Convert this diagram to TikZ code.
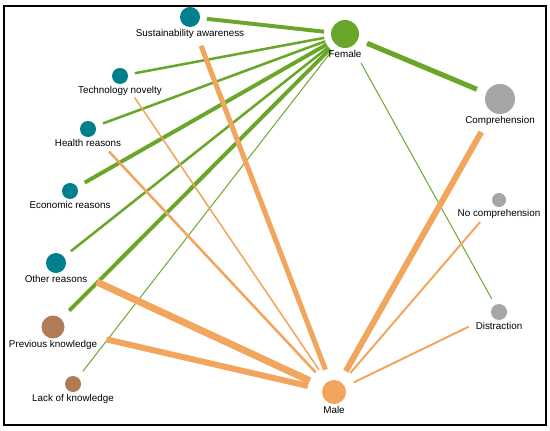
\documentclass[tikz,border=0pt]{standalone}
\usepackage{fontspec}
\setmainfont{Liberation Sans}
\usepackage{xcolor}
\usepackage{tikz}
\usetikzlibrary{positioning, backgrounds}
\definecolor{greenc}{RGB}{106,166,41}
\definecolor{orangec}{RGB}{242,165,92}
\definecolor{tealc}{RGB}{0,128,140}
\definecolor{brownc}{RGB}{176,124,88}
\definecolor{grayc}{RGB}{166,166,166}

\begin{document}
\begin{tikzpicture}[
    x=0.025cm, y=-0.025cm,
    dot/.style={circle, inner sep=0pt},
    lbl/.style={inner xsep=4pt, inner ysep=1pt, font=\fontsize{7}{8}\selectfont},
    gedge/.style={draw=greenc, shorten <=15pt},
    oedge/.style={draw=orangec, shorten <=19pt},
]
\useasboundingbox (0,0) rectangle (550,431);
\draw[line width=1.4pt] (4,6) rectangle (546,425);

% Left side — reasons and knowledge
\node[dot, fill=tealc, minimum size=0.5cm]    (sust)   at (190,17)  {};
\node[dot, fill=tealc, minimum size=0.4cm]    (tech)   at (120,76)  {};
\node[dot, fill=tealc, minimum size=0.4cm]    (health) at (88,129)  {};
\node[dot, fill=tealc, minimum size=0.4cm]    (econ)   at (70,191)  {};
\node[dot, fill=tealc, minimum size=0.5cm]    (other)  at (56,263)  {};
\node[dot, fill=brownc, minimum size=0.575cm] (prev)   at (53,327)  {};
\node[dot, fill=brownc, minimum size=0.4cm]   (lack)   at (73,384)  {};

\node[lbl, below=0pt of sust]   (lsust)   {Sustainability awareness};
\node[lbl, below=0pt of tech]   (ltech)   {Technology novelty};
\node[lbl, below=0pt of health] (lhealth) {Health reasons};
\node[lbl, below=0pt of econ]   (lecon)   {Economic reasons};
\node[lbl, below=0pt of other]  (lother)  {Other reasons};
\node[lbl, below=0pt of prev]   (lprev)   {Previous knowledge};
\node[lbl, below=0pt of lack]   (llack)   {Lack of knowledge};

% Middle — gender
\node[dot, fill=greenc, minimum size=0.7cm]  (female) at (345,34)  {};
\node[dot, fill=orangec, minimum size=0.6cm] (male)   at (334,392) {};
\node[lbl, below=0pt of female] (lfemale) {Female};
\node[lbl, below=0pt of male]   (lmale)   {Male};

% Right side — comprehension
\node[dot, fill=grayc, minimum size=0.75cm] (comp)   at (500,99)  {};
\node[dot, fill=grayc, minimum size=0.35cm] (nocomp) at (499,200) {};
\node[dot, fill=grayc, minimum size=0.4cm]  (distr)  at (499,312) {};
\node[lbl, below=0pt of comp]   (lcomp)   {Comprehension};
\node[lbl, below=0pt of nocomp] (lnocomp) {No comprehension};
\node[lbl, below=0pt of distr]  (ldistr)  {Distraction};

\begin{scope}[on background layer]
% Female links
\draw[gedge, line width=2.8pt, shorten >=12pt]   (female.center) -- (sust.center);
\draw[gedge, line width=1.8pt, shorten >=10.7pt] (female.center) -- (tech.center);
\draw[gedge, line width=1.8pt, shorten >=11.4pt] (female.center) -- (health.center);
\draw[gedge, line width=2.8pt, shorten >=12pt]   (female.center) -- (econ.center);
\draw[gedge, line width=1.8pt, shorten >=13.5pt] (female.center) -- (other.center);
\draw[gedge, line width=2.8pt, shorten >=16.4pt] (female.center) -- (prev.center);
\draw[gedge, line width=0.7pt, shorten >=11.4pt] (female.center) -- (lack.center);
\draw[gedge, line width=3.6pt, shorten <=17pt, shorten >=17.8pt] (female.center) -- (comp.center);
\draw[gedge, line width=0.7pt, shorten <=23.5pt, shorten >=10.7pt] (female.center) -- (distr.center);

% Male links
\draw[oedge, line width=3.6pt, shorten <=17pt, shorten >=22pt] (male.center) -- (sust.center);
\draw[oedge, line width=1.1pt, shorten >=18.5pt] (male.center) -- (tech.center);
\draw[oedge, line width=1.8pt, shorten >=22pt]   (male.center) -- (health.center);
\draw[oedge, line width=5pt,   shorten >=32pt]   (male.center) -- (other.center);
\draw[oedge, line width=4.3pt, shorten >=39pt]   (male.center) -- (prev.center);
\draw[oedge, line width=4.3pt, shorten <=17pt, shorten >=27pt] (male.center) -- (comp.center);
\draw[oedge, line width=1.4pt, shorten <=17.8pt, shorten >=20.6pt] (male.center) -- (nocomp.center);
\draw[oedge, line width=1.4pt, shorten <=15.6pt, shorten >=24pt]  (male.center) -- (distr.center);
\end{scope}

\end{tikzpicture}
\end{document}
